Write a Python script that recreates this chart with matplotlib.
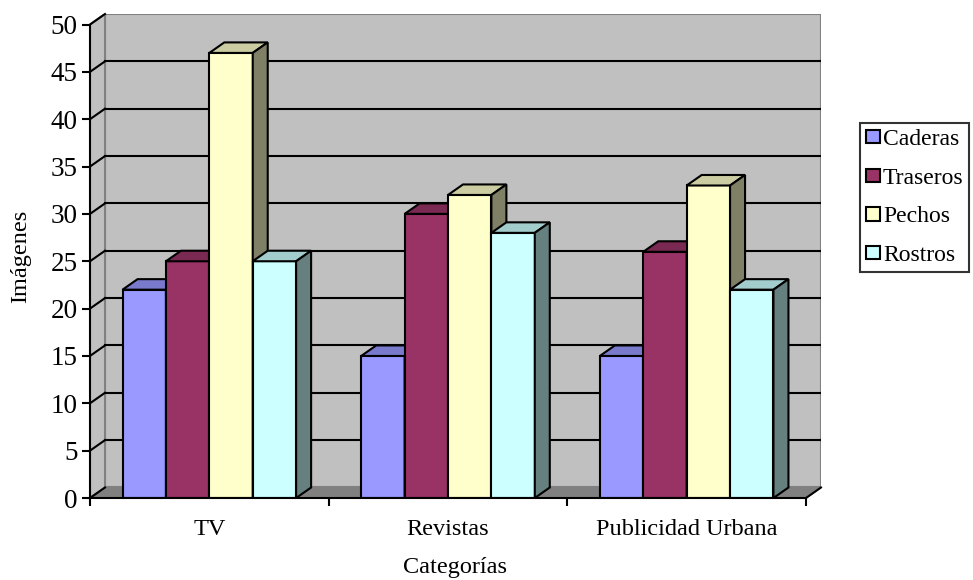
import matplotlib.pyplot as plt
from matplotlib.patches import Polygon, Patch

categorias = ["TV", "Revistas", "Publicidad Urbana"]
series = ["Caderas", "Traseros", "Pechos", "Rostros"]
caderas = [22, 15, 15]
traseros = [25, 30, 26]
pechos = [47, 32, 33]
rostros = [25, 28, 22]
valores = [caderas, traseros, pechos, rostros]

colores = ["#9999FF", "#993366", "#FFFFCC", "#CCFFFF"]
techo = ["#7A7ACC", "#7A2952", "#CCCCA3", "#A3CCCC"]
lado = ["#4D4D80", "#4D1A33", "#808066", "#668080"]

plt.rcParams["font.family"] = ["Liberation Serif", "DejaVu Serif"]

fig = plt.figure(figsize=(9.73, 5.8), dpi=100)
W, H = 973, 580
x0, x1, y0, y1 = 90, 821, 498, 14
ax = fig.add_axes([x0 / W, 1 - y0 / H, (x1 - x0) / W, (y0 - y1) / H])

ymax = 50
DX = 15 / 238.7
DY = 10.5 / 9.46
ax.set_xlim(0, 3 + DX)
ax.set_ylim(0, ymax + DY)
ax.set_facecolor("none")

gris = "#C0C0C0"
borde = "#808080"

# paredes
ax.add_patch(Polygon([(DX, DY), (3 + DX, DY), (3 + DX, ymax + DY), (DX, ymax + DY)],
                     closed=True, facecolor=gris, edgecolor=borde, lw=1.5, zorder=0))
ax.add_patch(Polygon([(0, 0), (DX, DY), (DX, ymax + DY), (0, ymax)],
                     closed=True, facecolor=gris, edgecolor=borde, lw=1.5, zorder=0))
# piso
ax.add_patch(Polygon([(0, 0), (3, 0), (3 + DX, DY), (DX, DY)],
                     closed=True, facecolor=borde, edgecolor=borde, lw=1, zorder=1))
ax.plot([3, 3 + DX], [0, DY], color="black", lw=1.5, zorder=1, clip_on=False)

# lineas de division
for v in range(5, ymax, 5):
    ax.plot([DX, 3 + DX], [v + DY, v + DY], color="black", lw=1.5, zorder=1)
for v in range(0, ymax + 1, 5):
    ax.plot([0, DX], [v, v + DY], color="black", lw=1.5, zorder=1, clip_on=False)

# barras 3D
w = 1 / 5.5
for i in range(len(categorias)):
    for j in range(len(series)):
        h = valores[j][i]
        xl = i + 0.5 - 2 * w + j * w
        z = 3 + i * 10 + j
        ax.add_patch(Polygon([(xl, 0), (xl + w, 0), (xl + w, h), (xl, h)], closed=True,
                             facecolor=colores[j], edgecolor="black", lw=1.5, zorder=z))
        ax.add_patch(Polygon([(xl, h), (xl + w, h), (xl + w + DX, h + DY), (xl + DX, h + DY)],
                             closed=True, facecolor=techo[j], edgecolor="black", lw=1.5, zorder=z))
        ax.add_patch(Polygon([(xl + w, 0), (xl + w + DX, DY), (xl + w + DX, h + DY), (xl + w, h)],
                             closed=True, facecolor=lado[j], edgecolor="black", lw=1.5, zorder=z))

# ejes
for s in ["top", "right"]:
    ax.spines[s].set_visible(False)
ax.spines["left"].set_bounds(0, ymax)
ax.spines["bottom"].set_bounds(0, 3)
for s in ["left", "bottom"]:
    ax.spines[s].set_linewidth(1.5)
    ax.spines[s].set_zorder(50)

ax.set_yticks(range(0, ymax + 1, 5))
ax.tick_params(axis="y", length=6, width=1.5, labelsize=19.5, pad=3)
ax.set_xticks([0, 1, 2, 3])
ax.set_xticklabels([])
ax.set_xticks([0.5, 1.5, 2.5], minor=True)
ax.set_xticklabels(categorias, minor=True)
ax.tick_params(axis="x", which="major", length=6, width=1.5)
ax.tick_params(axis="x", which="minor", length=0, labelsize=17.5, pad=15)

ax.set_xlabel("Categorías", fontsize=17.5, labelpad=12)
ax.set_ylabel("Imágenes", fontsize=17.5, labelpad=14)

handles = [Patch(facecolor=c, edgecolor="black", lw=1.5) for c in colores]
leg = fig.legend(handles, series, loc="center left", bbox_to_anchor=(860 / W, 1 - 197.5 / H),
                 fontsize=17, frameon=True, fancybox=False, edgecolor="black",
                 handlelength=0.6, handleheight=0.5, handletextpad=0.12,
                 labelspacing=0.75, borderpad=0.25, borderaxespad=0)
leg.get_frame().set_linewidth(1.5)

fig.savefig("out.png", dpi=100)
